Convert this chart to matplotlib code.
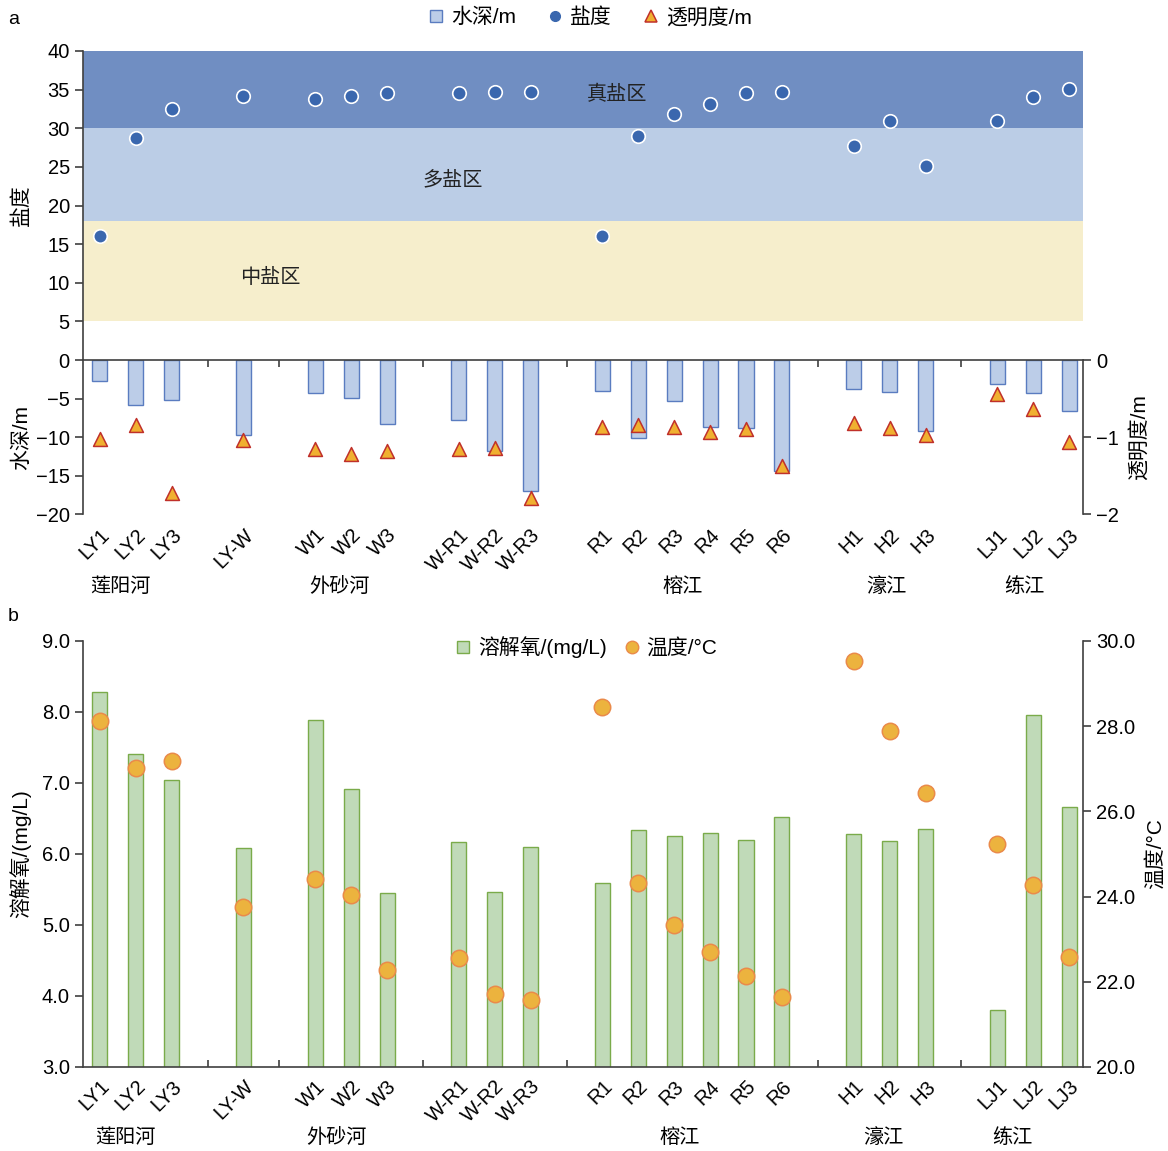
import matplotlib
matplotlib.use("Agg")
import matplotlib.pyplot as plt
from matplotlib.lines import Line2D
from matplotlib.transforms import blended_transform_factory

plt.rcParams['font.family'] = ['Liberation Sans', 'Noto Sans CJK SC']
plt.rcParams['axes.unicode_minus'] = True

# 采样站点，按河段分组（组间空一格）
blocks = [["LY1", "LY2", "LY3"], ["LY-W"], ["W1", "W2", "W3"], ["W-R1", "W-R2", "W-R3"],
          ["R1", "R2", "R3", "R4", "R5", "R6"], ["H1", "H2", "H3"], ["LJ1", "LJ2", "LJ3"]]
rivers = ["莲阳河", "外砂河", "榕江", "濠江", "练江"]

salinity = [16.0, 28.7, 32.5, 34.2, 33.8, 34.2, 34.6, 34.6, 34.7, 34.7,
            16.1, 29.0, 31.8, 33.1, 34.6, 34.7, 27.7, 31.0, 25.1, 31.0, 34.0, 35.1]
depth = [-2.75, -5.88, -5.19, -9.70, -4.29, -4.94, -8.37, -7.77, -11.85, -16.95,
         -3.99, -10.09, -5.32, -8.76, -8.88, -14.46, -3.73, -4.12, -9.23, -3.09, -4.25, -6.61]
transparency = [-1.02, -0.85, -1.73, -1.04, -1.15, -1.22, -1.18, -1.15, -1.14, -1.79,
                -0.87, -0.84, -0.87, -0.94, -0.90, -1.38, -0.82, -0.88, -0.97, -0.44, -0.64, -1.06]
dissolved_oxygen = [8.28, 7.41, 7.04, 6.09, 7.89, 6.92, 5.45, 6.17, 5.47, 6.10,
                    5.59, 6.34, 6.26, 6.30, 6.20, 6.52, 6.28, 6.18, 6.35, 3.80, 7.96, 6.66]
temperature = [28.13, 27.02, 27.18, 23.75, 24.41, 24.04, 22.28, 22.56, 21.71, 21.58,
               28.46, 24.31, 23.34, 22.71, 22.13, 21.65, 29.53, 27.88, 26.42, 25.24, 24.27, 22.59]

zones = [(5, 18, "中盐区"), (18, 30, "多盐区"), (30, 40, "真盐区")]
zone_colors = ["#f6eecc", "#bbcde6", "#708ec2"]

# 站点横坐标
xpos, names = [], []
slot = 0
for b in blocks:
    for s in b:
        xpos.append(slot)
        names.append(s)
        slot += 1
    slot += 1
all_slots = list(range(slot - 1))
xlim = (-0.47, 27.39)

spine_c = "#404040"
tick_fs = 14.5
cjk_fs = 14.5
label_fs = 15

fig = plt.figure(figsize=(11.68, 11.51), dpi=100)
ax_top = fig.add_axes([0.0711, 0.6872, 0.8562, 0.2685])
ax_mid = fig.add_axes([0.0711, 0.5534, 0.8562, 0.1338])
ax_b = fig.add_axes([0.0711, 0.0730, 0.8562, 0.3701])

# ---- a: 盐度分区 ----
for (lo, hi, name), c in zip(zones, zone_colors):
    ax_top.axhspan(lo, hi, color=c, lw=0, zorder=0)
ax_top.scatter(xpos, salinity, s=95, color="#3a67ae", edgecolor="white", linewidth=1.2, zorder=3)
ax_top.text(4.74, 10.7, "中盐区", ha="center", va="center", fontsize=cjk_fs, color="#222222")
ax_top.text(9.84, 23.3, "多盐区", ha="center", va="center", fontsize=cjk_fs, color="#222222")
ax_top.text(14.4, 34.4, "真盐区", ha="center", va="center", fontsize=cjk_fs, color="#222222")
ax_top.set_xlim(*xlim)
ax_top.set_ylim(0, 40)
ax_top.set_yticks(range(5, 45, 5))
ax_top.set_xticks([])
for sp in ["top", "right", "bottom"]:
    ax_top.spines[sp].set_visible(False)
ax_top.spines["left"].set_color(spine_c)
ax_top.spines["left"].set_linewidth(1.2)
ax_top.tick_params(axis="y", direction="out", length=6, width=1.2, color=spine_c, labelsize=tick_fs)
ax_top.set_ylabel("盐度", fontsize=label_fs)
ax_top.yaxis.set_label_coords(-0.052, 0.5)

# ---- a: 水深与透明度 ----
ax_mid.bar(xpos, depth, width=0.42, color="#bccde8", edgecolor="#5a7cc0", linewidth=1.0, zorder=2)
ax_mid.set_xlim(*xlim)
ax_mid.set_ylim(-20, 0)
ax_mid.set_yticks([0, -5, -10, -15, -20])
ax_mid.set_xticks(xpos)
ax_mid.set_xticklabels(names, rotation=45, ha="right", rotation_mode="anchor")
ax_mid.set_xticks(all_slots, minor=True)
ax_mid.tick_params(axis="x", which="both", bottom=False, top=True, direction="in",
                   length=5, width=1.2, color=spine_c, labelsize=tick_fs, pad=8)
ax_mid.tick_params(axis="y", direction="out", length=6, width=1.2, color=spine_c, labelsize=tick_fs)
for sp in ["bottom", "right"]:
    ax_mid.spines[sp].set_visible(False)
for sp in ["left", "top"]:
    ax_mid.spines[sp].set_color(spine_c)
    ax_mid.spines[sp].set_linewidth(1.2)
ax_mid.set_ylabel("水深/m", fontsize=label_fs)
ax_mid.yaxis.set_label_coords(-0.052, 0.5)

tw_mid = ax_mid.twinx()
tw_mid.scatter(xpos, transparency, marker="^", s=100, color="#f0b030", edgecolor="#c0302a",
               linewidth=1.1, zorder=4)
tw_mid.set_ylim(-2, 0)
tw_mid.set_yticks([0, -1, -2])
for sp in ["bottom", "top", "left"]:
    tw_mid.spines[sp].set_visible(False)
tw_mid.spines["right"].set_color(spine_c)
tw_mid.spines["right"].set_linewidth(1.2)
tw_mid.tick_params(axis="y", direction="out", length=6, width=1.2, color=spine_c, labelsize=tick_fs)
tw_mid.set_ylabel("透明度/m", fontsize=label_fs)
tw_mid.yaxis.set_label_coords(1.046, 0.5)

trans_mid = blended_transform_factory(ax_mid.transData, ax_mid.transAxes)
for x, r in zip([0.56, 6.66, 16.24, 21.9, 25.75], rivers):
    ax_mid.text(x, -0.47, r, transform=trans_mid, ha="center", va="center", fontsize=cjk_fs)

handles_a = [
    Line2D([], [], ls="", marker="s", ms=8, mfc="#bccde8", mec="#5a7cc0", mew=1.0),
    Line2D([], [], ls="", marker="o", ms=7, mfc="#3a67ae", mec="#3a67ae"),
    Line2D([], [], ls="", marker="^", ms=9, mfc="#f0b030", mec="#c0302a", mew=1.1),
]
fig.legend(handles_a, ["水深/m", "盐度", "透明度/m"], loc="center", bbox_to_anchor=(0.505, 0.985),
           ncol=3, frameon=False, fontsize=15, columnspacing=1.5, handletextpad=0.3, handlelength=0.8)

# ---- b: 溶解氧与温度 ----
ax_b.bar(xpos, dissolved_oxygen, width=0.42, color="#c0dab8", edgecolor="#7aab4a", linewidth=1.0, zorder=2)
ax_b.set_xlim(*xlim)
ax_b.set_ylim(3, 9)
ax_b.set_yticks([3, 4, 5, 6, 7, 8, 9])
ax_b.set_yticklabels([f"{v:.1f}" for v in [3, 4, 5, 6, 7, 8, 9]])
ax_b.set_xticks(xpos)
ax_b.set_xticklabels(names, rotation=45, ha="right", rotation_mode="anchor")
ax_b.set_xticks(all_slots, minor=True)
ax_b.tick_params(axis="x", which="both", bottom=True, top=False, direction="in",
                 length=5, width=1.2, color=spine_c, labelsize=tick_fs, pad=7)
ax_b.tick_params(axis="y", direction="out", length=6, width=1.2, color=spine_c, labelsize=tick_fs)
ax_b.spines["top"].set_visible(False)
ax_b.spines["right"].set_visible(False)
for sp in ["left", "bottom"]:
    ax_b.spines[sp].set_color(spine_c)
    ax_b.spines[sp].set_linewidth(1.2)
ax_b.set_ylabel("溶解氧/(mg/L)", fontsize=label_fs)
ax_b.yaxis.set_label_coords(-0.052, 0.5)

tw_b = ax_b.twinx()
tw_b.scatter(xpos, temperature, s=140, color="#ecb33e", edgecolor="#ea8a4a", linewidth=1.1, zorder=4)
tw_b.set_ylim(20, 30)
tw_b.set_yticks([20, 22, 24, 26, 28, 30])
tw_b.set_yticklabels([f"{v:.1f}" for v in [20, 22, 24, 26, 28, 30]])
for sp in ["bottom", "top", "left"]:
    tw_b.spines[sp].set_visible(False)
tw_b.spines["right"].set_color(spine_c)
tw_b.spines["right"].set_linewidth(1.2)
tw_b.tick_params(axis="y", direction="out", length=6, width=1.2, color=spine_c, labelsize=tick_fs)
tw_b.set_ylabel("温度/°C", fontsize=label_fs)
tw_b.yaxis.set_label_coords(1.062, 0.5)

trans_b = blended_transform_factory(ax_b.transData, ax_b.transAxes)
for x, r in zip([0.72, 6.58, 16.16, 21.82, 25.41], rivers):
    ax_b.text(x, -0.166, r, transform=trans_b, ha="center", va="center", fontsize=cjk_fs)

handles_b = [
    Line2D([], [], ls="", marker="s", ms=8, mfc="#c0dab8", mec="#7aab4a", mew=1.0),
    Line2D([], [], ls="", marker="o", ms=9, mfc="#ecb33e", mec="#ea8a4a", mew=1.0),
]
ax_b.legend(handles_b, ["溶解氧/(mg/L)", "温度/°C"], loc="center", bbox_to_anchor=(0.503, 0.986),
            ncol=2, frameon=False, fontsize=15, columnspacing=0.8, handletextpad=0.3, handlelength=0.8)

fig.text(0.007, 0.983, "a", fontsize=14, va="center")
fig.text(0.007, 0.464, "b", fontsize=14, va="center")

fig.savefig("out.png", dpi=100)
